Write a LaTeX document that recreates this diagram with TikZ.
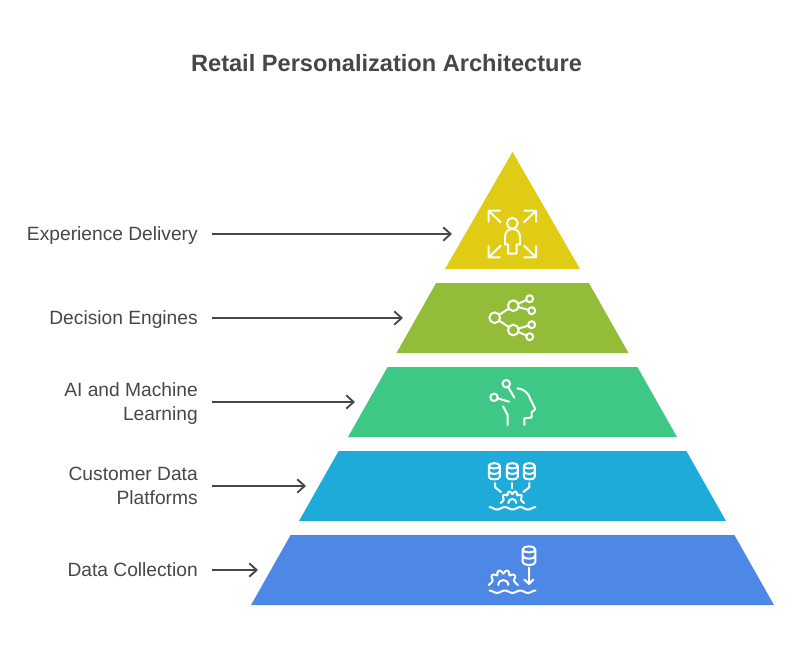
\documentclass[tikz,border=0pt]{standalone}
\usepackage{fontspec}
\setmainfont{Liberation Sans}
\usetikzlibrary{arrows.meta, positioning, shapes.geometric}

\definecolor{inktext}{HTML}{474747}
\definecolor{layeryellow}{HTML}{E0CB15}
\definecolor{layerolive}{HTML}{93BC39}
\definecolor{layergreen}{HTML}{3EC785}
\definecolor{layerblue}{HTML}{1EABDA}
\definecolor{layerroyal}{HTML}{4D88E6}

\begin{document}
\begin{tikzpicture}[
    x=0.75pt, y=-0.75pt,
    node distance=10.5pt,
    layer/.style={
        trapezium,
        trapezium stretches body,
        trapezium left angle=60.5,
        trapezium right angle=60.5,
        text height=52.5pt,
        text depth=0pt,
        inner sep=0pt,
        outer sep=0pt
    },
    lbl/.style={
        anchor=east,
        align=right,
        inner xsep=10.5pt,
        inner ysep=0pt,
        text=inktext,
        font=\fontsize{14.4pt}{18pt}\selectfont
    },
    arrow/.style={-{Straight Barb[length=5.5pt, width=10pt]}, line width=1.4pt, draw=inktext},
    icon/.style={draw=white, line width=1.5pt, line cap=round, line join=round},
    dot/.style={circle, draw=white, line width=1.5pt, inner sep=0pt, outer sep=0pt},
    dbcyl/.pic={
        \draw[icon] (-5.5,-5.5) -- (-5.5,5.5) .. controls (-5.5,9) and (5.5,9) .. (5.5,5.5) -- (5.5,-5.5)
            .. controls (5.5,-9) and (-5.5,-9) .. (-5.5,-5.5) .. controls (-5.5,-2) and (5.5,-2) .. (5.5,-5.5);
        \draw[icon] (-5.5,0) .. controls (-5.5,3.5) and (5.5,3.5) .. (5.5,0);
    },
    gearhalf/.pic={
        \draw[icon, rounded corners=1pt] (-14.7,0) -- (-11.5,-2.5)
            \foreach \a in {139.5,106.5,73.5,40.5} {
                -- (-\a-12:11.5) -- (-\a-8:15) -- (-\a+8:15) -- (-\a+12:11.5)
            } -- (11.5,-2.5) -- (14.7,0);
        \draw[icon] (-5,0) .. controls (-5,-6.6) and (5,-6.6) .. (5,0);
    },
    wavelet/.pic={
        \draw[icon] plot[domain=-23:23, samples=70, smooth] (\x,{1.2*cos(\x*360/15.4)});
    }
]

\useasboundingbox (0,0) rectangle (800,654);

\node[text=inktext, font=\fontsize{17.7pt}{22pt}\selectfont\bfseries] (title) at (386.5,63) {Retail Personalization Architecture};

% pyramid, top to bottom
\node[layer, fill=layerolive, minimum width=174pt] (decision) at (512.5,318) {};
\node[isosceles triangle, isosceles triangle stretches, shape border rotate=90, fill=layeryellow,
    inner sep=0pt, outer sep=0pt, minimum width=101.25pt, minimum height=87.75pt, above=of decision] (delivery) {};
\node[layer, fill=layergreen, minimum width=246.75pt, below=of decision] (learning) {};
\node[layer, fill=layerblue, minimum width=320.25pt, below=of learning] (platform) {};
\node[layer, fill=layerroyal, minimum width=392.25pt, below=of platform] (collection) {};

% labels
\node[lbl] (lbldelivery) at (212,236) {Experience Delivery};
\node[lbl] (lbldecision) at (212,320) {Decision Engines};
\node[lbl] (lbllearning) at (212,404) {AI and Machine\\Learning};
\node[lbl] (lblplatform) at (212,486) {Customer Data\\Platforms};
\node[lbl] (lblcollection) at (212,570) {Data Collection};

\coordinate (tipdelivery) at (452,234);
\coordinate (tipdecision) at (403,318);
\coordinate (tiplearning) at (355,402);
\coordinate (tipplatform) at (306,486);
\coordinate (tipcollection) at (258,570);

\draw[arrow] (tipdelivery -| lbldelivery.east) -- (tipdelivery);
\draw[arrow] (tipdecision -| lbldecision.east) -- (tipdecision);
\draw[arrow] (tiplearning -| lbllearning.east) -- (tiplearning);
\draw[arrow] (tipplatform -| lblplatform.east) -- (tipplatform);
\draw[arrow] (tipcollection -| lblcollection.east) -- (tipcollection);

% icon: person with arrows
\node[dot, minimum size=8.2pt] (head) at (512.3,223.3) {};
\draw[icon] (505,244.3) -- (505,236.5) .. controls (505,226.5) and (520,226.5) .. (520,236.5) -- (520,244.3)
    -- (516.5,244.3) -- (516.5,253.5) -- (508,253.5) -- (508,244.3) -- cycle;
\draw[icon] (500,210.7) -- (488.5,210.7) -- (488.5,221.7) (488.5,210.7) -- (500.7,222.3);
\draw[icon] (524.3,210.7) -- (536,210.7) -- (536,221.7) (536,210.7) -- (524,222.3);
\draw[icon] (500,257.3) -- (488.5,257.3) -- (488.5,246) (488.5,257.3) -- (500.7,245.7);
\draw[icon] (524.3,257.3) -- (536,257.3) -- (536,246) (536,257.3) -- (524,245.7);

% icon: branching tree
\node[dot, minimum size=8pt] (root) at (494.7,317.7) {};
\node[dot, minimum size=8pt] (upper) at (513.3,305.7) {};
\node[dot, minimum size=8pt] (lower) at (513.3,330) {};
\node[dot, minimum size=5.2pt] (leafa) at (529.7,298.7) {};
\node[dot, minimum size=5.2pt] (leafb) at (531.7,310.7) {};
\node[dot, minimum size=5.2pt] (leafc) at (531.7,324.7) {};
\node[dot, minimum size=5.2pt] (leafd) at (529.7,336.7) {};
\draw[icon] (root) -- (upper);
\draw[icon] (root) -- (lower);
\draw[icon] (upper) -- (leafa);
\draw[icon] (upper) -- (leafb);
\draw[icon] (lower) -- (leafc);
\draw[icon] (lower) -- (leafd);

% icon: head
\node[dot, minimum size=5.6pt] (pointa) at (506.3,383.7) {};
\node[dot, minimum size=5.6pt] (pointb) at (494,397.3) {};
\draw[icon] (pointa) -- (514.3,397.7);
\draw[icon] (pointb) -- (509,401.7);
\draw[icon] (503,406.3) -- (507.7,415) -- (507.7,425);
\draw[icon] (517.3,388.3) .. controls (523,388.5) and (529,393) .. (530.5,399.5) -- (535.3,409) -- (531.7,412.3)
    -- (531.7,417.5) -- (524.3,418.3) -- (524.3,425);

% icon: databases into gear
\pic at (494.3,471.3) {dbcyl};
\pic at (512.3,471.3) {dbcyl};
\pic at (529.3,471.3) {dbcyl};
\draw[icon] (495,483) -- (495,487.3) -- (501,492);
\draw[icon] (512.3,483) -- (512.3,488.3);
\draw[icon] (529.3,483) -- (529.3,487.3) -- (523.3,492);
\pic[scale=0.8] at (512.3,503) {gearhalf};
\pic at (512.5,508.3) {wavelet};

% icon: database and gear
\pic[scale=1.15] at (529,555.7) {dbcyl};
\draw[icon] (529,567.7) -- (529,584) (524.3,579.5) -- (529,584) -- (533.5,579.5);
\pic at (503.3,585) {gearhalf};
\pic at (512.5,591.7) {wavelet};

\end{tikzpicture}
\end{document}
